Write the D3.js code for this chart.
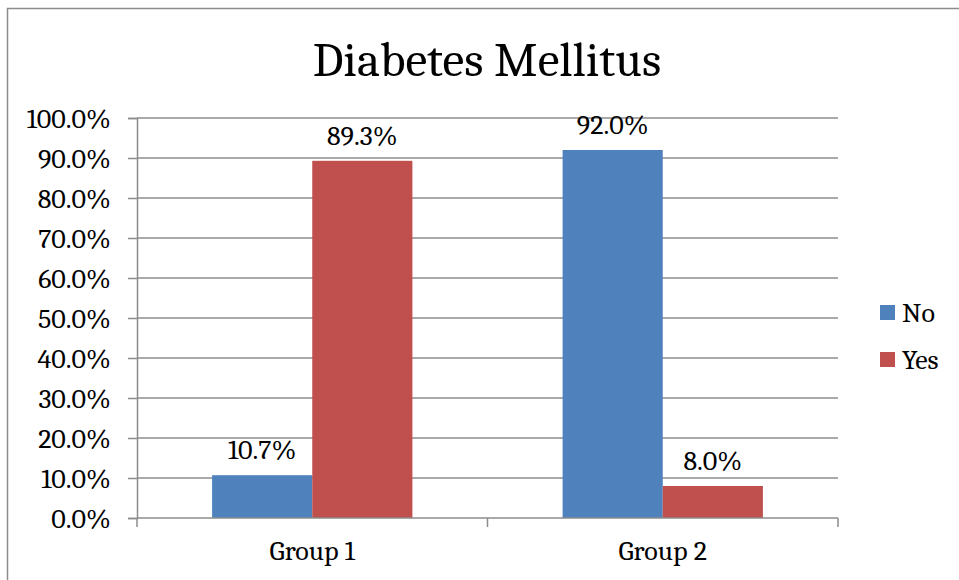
<!DOCTYPE html>
<html lang="en">
<head>
<meta charset="utf-8">
<title>Diabetes Mellitus</title>
<script src="https://cdn.jsdelivr.net/npm/d3@7"></script>
<style>
  body { margin: 0; background: #fff; }
  svg text { font-family: 'Caladea', 'Liberation Serif', serif; }
</style>
</head>
<body>
<div id="chart"></div>
<script>

/* Data */
var groups = ['Group 1', 'Group 2'];
var series = ['No', 'Yes'];
var noValues = [10.7, 92.0];
var yesValues = [89.3, 8.0];
var yTicks = [0, 10, 20, 30, 40, 50, 60, 70, 80, 90, 100];
var colors = ['#4F81BD', '#C0504D'];

var width = 959,
    height = 580,
    fontSize = 28;

var plot = { left: 137, right: 838, top: 118, bottom: 518 };

var svg = d3.select('#chart').append('svg')
    .attr('width', width)
    .attr('height', height);

// outer frame
svg.append('rect')
    .attr('x', 7.5).attr('y', 8.5)
    .attr('width', 960).attr('height', 590)
    .attr('fill', '#fff')
    .attr('stroke', '#8c8c8c')
    .attr('stroke-width', 1.5);

// scales
var y = d3.scaleLinear().domain([0, 100]).range([plot.bottom, plot.top]);
var x0 = d3.scaleBand().domain(groups).range([plot.left, plot.right]);
var x1 = d3.scaleBand().domain(series)
    .range([0, x0.bandwidth()])
    .paddingOuter(0.75)
    .paddingInner(0);

// gridlines
svg.append('g')
  .selectAll('line')
  .data(yTicks.filter(function(d) { return d > 0; }))
  .join('line')
    .attr('x1', plot.left).attr('x2', plot.right)
    .attr('y1', function(d) { return y(d); })
    .attr('y2', function(d) { return y(d); })
    .attr('stroke', '#8c8c8c')
    .attr('stroke-width', 1.5);

// y axis
var yAxis = svg.append('g')
    .attr('transform', 'translate(' + plot.left + ',0)')
    .call(d3.axisLeft(y).tickValues(yTicks).tickSize(9).tickPadding(17)
      .tickFormat(function(d) { return d.toFixed(1) + '%'; }));
yAxis.attr('font-family', null);
yAxis.select('.domain').attr('stroke', '#8c8c8c').attr('stroke-width', 1.5);
yAxis.selectAll('.tick line').attr('stroke', '#8c8c8c').attr('stroke-width', 1.5);
yAxis.selectAll('.tick text')
    .attr('font-size', fontSize)
    .attr('dy', '0.34em')
    .attr('fill', '#000');

// bars
var rows = groups.map(function(g, i) {
  return { group: g, values: [noValues[i], yesValues[i]] };
});

var barG = svg.append('g')
  .selectAll('g')
  .data(rows)
  .join('g')
    .attr('transform', function(d) { return 'translate(' + x0(d.group) + ',0)'; });

barG.selectAll('rect')
  .data(function(d) { return d.values.map(function(v, j) { return { key: series[j], value: v, j: j }; }); })
  .join('rect')
    .attr('x', function(d) { return x1(d.key); })
    .attr('y', function(d) { return y(d.value); })
    .attr('width', x1.bandwidth())
    .attr('height', function(d) { return y(0) - y(d.value); })
    .attr('fill', function(d) { return colors[d.j]; });

barG.selectAll('text')
  .data(function(d) { return d.values.map(function(v, j) { return { key: series[j], value: v }; }); })
  .join('text')
    .attr('x', function(d) { return x1(d.key) + x1.bandwidth() / 2; })
    .attr('y', function(d) { return y(d.value) - 16; })
    .attr('text-anchor', 'middle')
    .attr('font-size', fontSize)
    .text(function(d) { return d.value.toFixed(1) + '%'; });

// x axis
var xAxis = svg.append('g')
    .attr('transform', 'translate(0,' + plot.bottom + ')');
xAxis.append('line')
    .attr('x1', plot.left).attr('x2', plot.right)
    .attr('stroke', '#8c8c8c').attr('stroke-width', 1.5);
xAxis.selectAll('line.tick')
  .data([plot.left].concat(groups.map(function(g) { return x0(g) + x0.bandwidth(); })))
  .join('line')
    .attr('class', 'tick')
    .attr('x1', function(d) { return d; }).attr('x2', function(d) { return d; })
    .attr('y1', 0).attr('y2', 9)
    .attr('stroke', '#8c8c8c').attr('stroke-width', 1.5);
xAxis.selectAll('text')
  .data(groups)
  .join('text')
    .attr('x', function(d) { return x0(d) + x0.bandwidth() / 2; })
    .attr('y', 42)
    .attr('text-anchor', 'middle')
    .attr('font-size', fontSize)
    .text(function(d) { return d; });

// title
svg.append('text')
    .attr('x', 487)
    .attr('y', 76)
    .attr('text-anchor', 'middle')
    .attr('font-size', 49)
    .text('Diabetes Mellitus');

// legend
var legend = svg.append('g')
  .selectAll('g')
  .data(series)
  .join('g')
    .attr('transform', function(d, i) { return 'translate(880,' + (305 + i * 47) + ')'; });
legend.append('rect')
    .attr('width', 15).attr('height', 15)
    .attr('fill', function(d, i) { return colors[i]; });
legend.append('text')
    .attr('x', 22).attr('y', 17)
    .attr('font-size', fontSize)
    .text(function(d) { return d; });

</script>
</body>
</html>
